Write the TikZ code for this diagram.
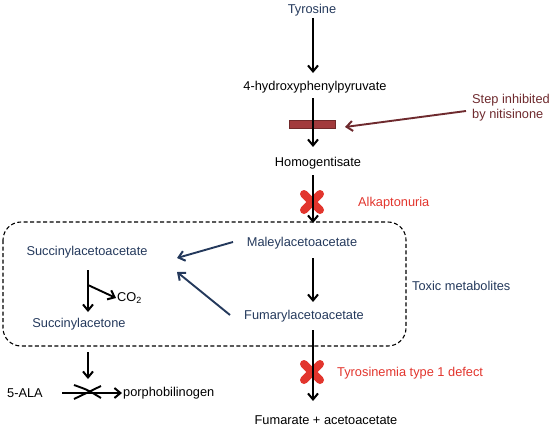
\documentclass[tikz,border=0pt]{standalone}
\usepackage{fontspec}
\setmainfont{Liberation Sans}
\usetikzlibrary{arrows.meta}
\definecolor{navy}{HTML}{24395C}
\definecolor{xred}{HTML}{E2352D}
\definecolor{dred}{HTML}{6E2A2E}
\definecolor{bar}{HTML}{A23A3C}
\begin{document}
\begin{tikzpicture}[x=1pt,y=-1pt,
  lbl/.style={font=\fontsize{12.8}{15}\selectfont, inner sep=1pt},
  nv/.style={lbl, text=navy},
  tip/.style={-{Straight Barb[length=6pt,width=10pt,line width=2pt]}},
  arr/.style={line width=1.9pt, tip},
  narr/.style={arr, draw=navy},
  xmark/.style={xred, line width=8pt, line cap=round}]
\useasboundingbox (0,0) rectangle (553,428);
% nodes
\node[nv] (tyr) at (312,10) {Tyrosine};
\node[lbl] (hpp) at (315,87) {4-hydroxyphenylpyruvate};
\node[lbl] (hga) at (318,163) {Homogentisate};
\node[nv] (maa) at (302,243) {Maleylacetoacetate};
\node[nv] (faa) at (304,316) {Fumarylacetoacetate};
\node[nv] (saa) at (87,252) {Succinylacetoacetate};
\node[nv] (sac) at (79,324) {Succinylacetone};
\node[lbl, anchor=west] (co2) at (116,298) {CO\textsubscript{2}};
\node[lbl] (fum) at (326,420) {Fumarate + acetoacetate};
\node[lbl, anchor=west] (ala) at (6,393) {5-ALA};
\node[lbl, anchor=west] (pbg) at (122,393) {porphobilinogen};
\node[nv, anchor=west] (tox) at (411,286) {Toxic metabolites};
\node[lbl, text=xred, anchor=west] (alk) at (357,203) {Alkaptonuria};
\node[lbl, text=xred, anchor=west] (tyd) at (336,373) {Tyrosinemia type 1 defect};
\node[lbl, text=dred, align=left, anchor=west] (nit) at (471,108) {Step inhibited\\by nitisinone};
% dashed box
\draw[line width=1.1pt, rounded corners=18pt, dash pattern=on 4pt off 2.5pt] (3,222) rectangle (406,346);
% red X marks
\draw[xmark] (304,194) -- (320,210) (304,210) -- (320,194);
\draw[xmark] (304,364) -- (320,380) (304,380) -- (320,364);
% inhibitor bar
\node[draw=bar!70!black, fill=bar, minimum width=46pt, minimum height=7.5pt, inner sep=0pt, line width=0.6pt] (bar) at (312,124.5) {};
% main arrows
\draw[arr] (313,18) -- (313,73);
\draw[arr] (313,98) -- (313,147);
\draw[arr] (313,175) -- (313,223);
\draw[arr] (313,258) -- (313,302);
\draw[arr] (313,330) -- (313,401);
% nitisinone arrow
\draw[line width=1.9pt, draw=dred, tip] (466,111) -- (345,127);
% to succinylacetoacetate
\coordinate (s1) at (177,258);
\coordinate (s2) at (177,272);
\draw[narr] (233,242) -- (s1);
\draw[narr] (230,315) -- (s2);
% succinylacetoacetate -> succinylacetone
\draw[arr] (88,270) -- (88,312);
\draw[arr] (88,285) -- (co2.west);
% box -> porphobilinogen step
\draw[arr] (88,352) -- (88,379);
\draw[arr] (62,393) -- (pbg.west);
\draw[line width=1.9pt] (74,385) .. controls (88,390) .. (101,398);
\draw[line width=1.9pt] (74,399) .. controls (88,392) .. (101,386);
\end{tikzpicture}
\end{document}
